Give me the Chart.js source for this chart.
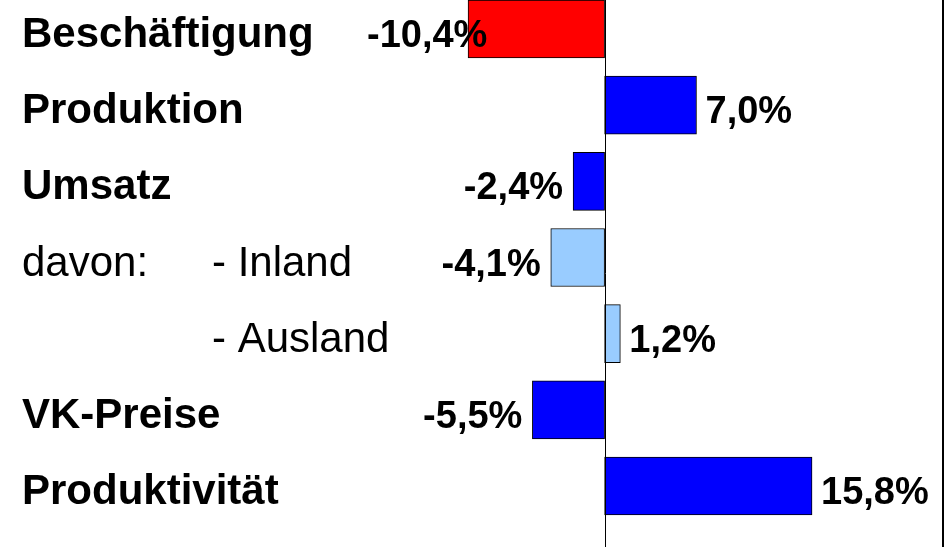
<!DOCTYPE html>
<html>
<head>
<meta charset="utf-8">
<script src="https://cdn.jsdelivr.net/npm/chart.js@4"></script>
<style>
  html, body { margin: 0; padding: 0; background: #fff; }
  #wrap { width: 947px; height: 547px; position: relative; }
</style>
</head>
<body>
<div id="wrap"><canvas id="bars"></canvas></div>
<script>
const categories = ['Beschäftigung', 'Produktion', 'Umsatz', '- Inland', '- Ausland', 'VK-Preise', 'Produktivität']
const changes = [-10.4, 7.0, -2.4, -4.1, 1.2, -5.5, 15.8]
const barColors = ['#ff0000', '#0000ff', '#0000ff', '#99ccff', '#99ccff', '#0000ff', '#0000ff']

const fmt = (v) => v.toFixed(1).replace('.', ',') + '%'

// category names on the left, value labels next to the bars, zero line and right frame
const annotate = {
  id: 'annotate',
  afterDatasetsDraw (chart) {
    const { ctx, scales: { x, y } } = chart
    const zero = Math.round(x.getPixelForValue(0)) + 0.5
    ctx.save()
    ctx.strokeStyle = '#000'
    ctx.lineWidth = 1
    ctx.beginPath()
    ctx.moveTo(zero, 0)
    ctx.lineTo(zero, chart.height)
    ctx.stroke()
    ctx.lineWidth = 2
    ctx.beginPath()
    ctx.moveTo(943, 0)
    ctx.lineTo(943, chart.height)
    ctx.stroke()

    ctx.fillStyle = '#000'
    ctx.textBaseline = 'alphabetic'
    const meta = chart.getDatasetMeta(0)
    categories.forEach((name, i) => {
      const cy = y.getPixelForValue(i)
      const base = cy + 18
      const plain = name.startsWith('-')
      ctx.font = (plain ? '' : 'bold ') + '42px "Liberation Sans", Arial, sans-serif'
      ctx.textAlign = 'left'
      if (plain) {
        if (i === 3) ctx.fillText('davon:', 22, base)
        ctx.fillText(name, 212, base)
      } else {
        ctx.fillText(name, 22, base)
      }

      const v = changes[i]
      const bar = meta.data[i]
      ctx.font = 'bold 38px "Liberation Sans", Arial, sans-serif'
      const txt = fmt(v)
      if (v >= 0) {
        ctx.fillText(txt, bar.x + 9, base)
      } else {
        const w = ctx.measureText(txt).width
        const left = Math.max(bar.x - 10 - w, 367)
        ctx.fillText(txt, left, base)
      }
    })
    ctx.restore()
  }
}

new Chart(document.getElementById('bars'), {
  type: 'bar',
  data: {
    labels: categories,
    datasets: [{
      data: changes,
      backgroundColor: barColors,
      borderColor: '#000',
      borderWidth: 1,
      borderSkipped: false,
      barThickness: 58,
      clip: false
    }]
  },
  options: {
    indexAxis: 'y',
    responsive: true,
    maintainAspectRatio: false,
    animation: false,
    layout: { padding: { top: 29, bottom: 61, left: 0, right: 0 } },
    scales: {
      x: { display: false, min: -46.05, max: 26.08 },
      y: { display: false, offset: false }
    },
    plugins: {
      legend: { display: false },
      tooltip: { enabled: false }
    }
  },
  plugins: [annotate]
})
</script>
</body>
</html>
